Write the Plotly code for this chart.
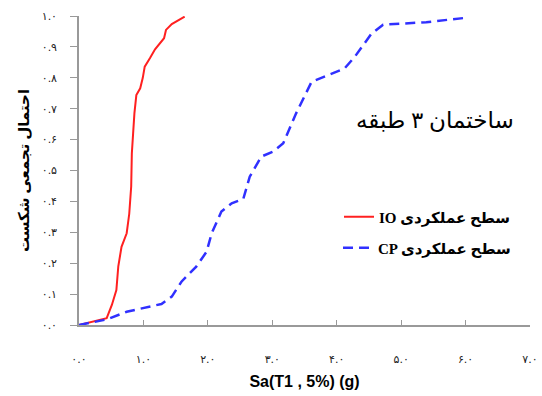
import plotly.graph_objects as go

# Fragility curves: spectral acceleration Sa(T1, 5%) [g] vs cumulative probability of failure
io_sa = [0.0, 0.43, 0.51, 0.58, 0.61, 0.66, 0.74, 0.78, 0.81, 0.82, 0.84, 0.86,
         0.89, 0.95, 0.99, 1.02, 1.10, 1.18, 1.32, 1.35, 1.44, 1.64]
io_p = [0.0, 0.022, 0.065, 0.113, 0.19, 0.253, 0.297, 0.36, 0.448, 0.555, 0.62, 0.685,
        0.744, 0.766, 0.80, 0.836, 0.863, 0.892, 0.928, 0.955, 0.974, 0.998]

cp_sa = [0.0, 0.43, 0.74, 1.0, 1.28, 1.44, 1.59, 1.82, 1.98, 2.06, 2.21, 2.37, 2.55,
         2.65, 2.83, 3.01, 3.17, 3.37, 3.61, 3.81, 4.12, 4.28, 4.54, 4.72, 5.39, 6.04]
cp_p = [0.0, 0.018, 0.043, 0.054, 0.068, 0.092, 0.14, 0.189, 0.237, 0.297, 0.367, 0.394,
        0.408, 0.48, 0.545, 0.561, 0.588, 0.685, 0.787, 0.804, 0.83, 0.868, 0.943, 0.972,
        0.98, 0.995]

fa_digits = "۰۱۲۳۴۵۶۷۸۹"


def to_fa(s):
    return "".join(fa_digits[int(c)] if c.isdigit() else c for c in s)


x_tick_vals = [0, 1, 2, 3, 4, 5, 6, 7]
x_tick_text = [to_fa(f"{v:.1f}") for v in x_tick_vals]
y_tick_vals = [i / 10 for i in range(11)]
y_tick_text = [to_fa(f"{v:.1f}") for v in y_tick_vals]

# SVG text runs left-to-right, so the Latin level code is written first to sit on the left
io_name = "<b>IO سطح عملکردی</b>"
cp_name = "<b>CP سطح عملکردی</b>"
title_text = "ساختمان ۳ طبقه"

serif = "Liberation Serif, DejaVu Serif, DejaVu Sans, serif"

fig = go.Figure()
fig.add_trace(go.Scatter(x=io_sa, y=io_p, mode="lines", name=io_name,
                         line=dict(color="#ff2020", width=2), legend="legend"))
fig.add_trace(go.Scatter(x=cp_sa, y=cp_p, mode="lines", name=cp_name,
                         line=dict(color="#3030ff", width=2.5, dash="10px,6px"),
                         legend="legend2"))

# plot area spans 451 px horizontally and 309 px vertically
fig.add_annotation(x=(516 - 79) / 451, y=(325 - 121) / 309, xref="paper", yref="paper",
                   text=title_text, showarrow=False,
                   font=dict(size=23, family=serif, color="black"))

legend_style = dict(xanchor="right", yanchor="middle", bgcolor="rgba(0,0,0,0)",
                    font=dict(size=15, family=serif, color="black"),
                    itemwidth=30, tracegroupgap=0)

fig.update_layout(
    width=542, height=396,
    margin=dict(l=79, r=12, t=16, b=71, autoexpand=False),
    paper_bgcolor="white", plot_bgcolor="white",
    showlegend=True,
    legend=dict(x=(516 - 79) / 451, y=(325 - 217) / 309, **legend_style),
    legend2=dict(x=(516 - 79) / 451, y=(325 - 248) / 309, **legend_style),
    xaxis=dict(range=[0, 7], tickvals=x_tick_vals, ticktext=x_tick_text,
               showgrid=False, zeroline=False, showline=True, linecolor="#999999",
               linewidth=1.5, ticks="inside", ticklen=5, tickcolor="#999999",
               tickfont=dict(size=11, color="#222222", family="DejaVu Sans"),
               ticklabelstandoff=23, automargin=False,
               title=dict(text="<b>Sa(T1 , 5%) (g)</b>", standoff=11,
                          font=dict(size=16, family="Liberation Sans, Arial", color="black"))),
    yaxis=dict(range=[0, 1], tickvals=y_tick_vals, ticktext=y_tick_text,
               showgrid=False, zeroline=False, showline=True, linecolor="#999999",
               linewidth=1.5, ticks="outside", ticklen=7, tickcolor="#999999",
               tickfont=dict(size=11, color="#222222", family="DejaVu Sans"),
               ticklabelstandoff=11, automargin=False,
               title=dict(text="<b>احتمال تجمعی شکست</b>", standoff=8,
                          font=dict(size=15, family=serif, color="black"))),
)

fig.write_html("out.html")
